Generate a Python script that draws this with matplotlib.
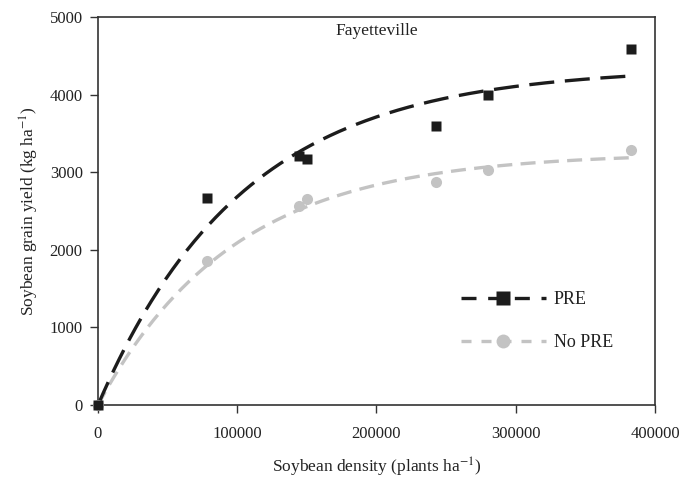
import numpy as np
import matplotlib
matplotlib.use("Agg")
import matplotlib.pyplot as plt
from matplotlib.lines import Line2D

plt.rcParams['font.family'] = ['Liberation Serif', 'DejaVu Serif']
plt.rcParams['mathtext.fontset'] = 'stix'

# Data (plants/ha, kg/ha)
density_pre = [0, 78300, 144600, 150300, 242700, 279900, 383000]
yield_pre = [0, 2670, 3208, 3165, 3590, 3990, 4590]
density_nopre = [0, 78300, 144600, 150300, 242700, 279900, 383000]
yield_nopre = [0, 1850, 2565, 2657, 2868, 3023, 3290]

# Fitted curve parameters (exponential rise to maximum)
fit_pre = {"a": 4350, "b": 9.6e-6}
fit_nopre = {"a": 3250, "b": 1.03e-5}

xticks = [0, 100000, 200000, 300000, 400000]
yticks = [0, 1000, 2000, 3000, 4000, 5000]

fig = plt.figure(figsize=(6.95, 4.8), dpi=100)
ax = fig.add_axes([98/695, 1-405/480, 557/695, 388/480])

xs = np.linspace(0, max(density_pre), 300)
pre_col = '#1c1c1c'
nopre_col = '#c3c3c3'

ax.plot(xs, fit_nopre["a"]*(1-np.exp(-fit_nopre["b"]*xs)), color=nopre_col,
        lw=2.4, dashes=(4.5, 2.5), zorder=2)
ax.plot(xs, fit_pre["a"]*(1-np.exp(-fit_pre["b"]*xs)), color=pre_col,
        lw=2.4, dashes=(7.5, 3.2), zorder=3)

ax.plot(density_nopre, yield_nopre, 'o', color=nopre_col, ms=8, mec='none',
        clip_on=False, zorder=4)
ax.plot(density_pre, yield_pre, 's', color=pre_col, ms=7.2, mec='none',
        clip_on=False, zorder=5)

ax.set_xlim(0, 400000)
ax.set_ylim(0, 5000)
ax.set_xticks(xticks)
ax.set_yticks(yticks)
ax.set_xticklabels([str(t) for t in xticks])
ax.set_yticklabels([str(t) for t in yticks])
ax.tick_params(axis='both', direction='out', length=6, width=1, labelsize=12,
               color='#333333', labelcolor='#222222')
ax.tick_params(axis='x', pad=9)
ax.tick_params(axis='y', pad=5)
for s in ax.spines.values():
    s.set_linewidth(1.2)
    s.set_color('#333333')

ax.set_xlabel('Soybean density (plants ha$^{-1}$)', fontsize=12.5, color='#222222', labelpad=10)
ax.set_ylabel('Soybean grain yield (kg ha$^{-1}$)', fontsize=12.5, color='#222222', labelpad=6)

ax.text(0.5, 0.985, 'Fayetteville', transform=ax.transAxes, ha='center', va='top',
        fontsize=12.5, color='#222222')

handles = [
    Line2D([0], [0], color=pre_col, lw=2.4, dashes=(4.5, 3.5), marker='s', ms=10, mec='none'),
    Line2D([0], [0], color=nopre_col, lw=2.4, dashes=(3, 3), marker='o', ms=10, mec='none'),
]
ax.legend(handles, ['PRE', 'No PRE'], loc='upper left', bbox_to_anchor=(0.622, 0.335),
          frameon=False, handlelength=4.7, labelspacing=1.45, handletextpad=0.45,
          fontsize=13, labelcolor='#222222')

fig.savefig('out.png', dpi=100)
